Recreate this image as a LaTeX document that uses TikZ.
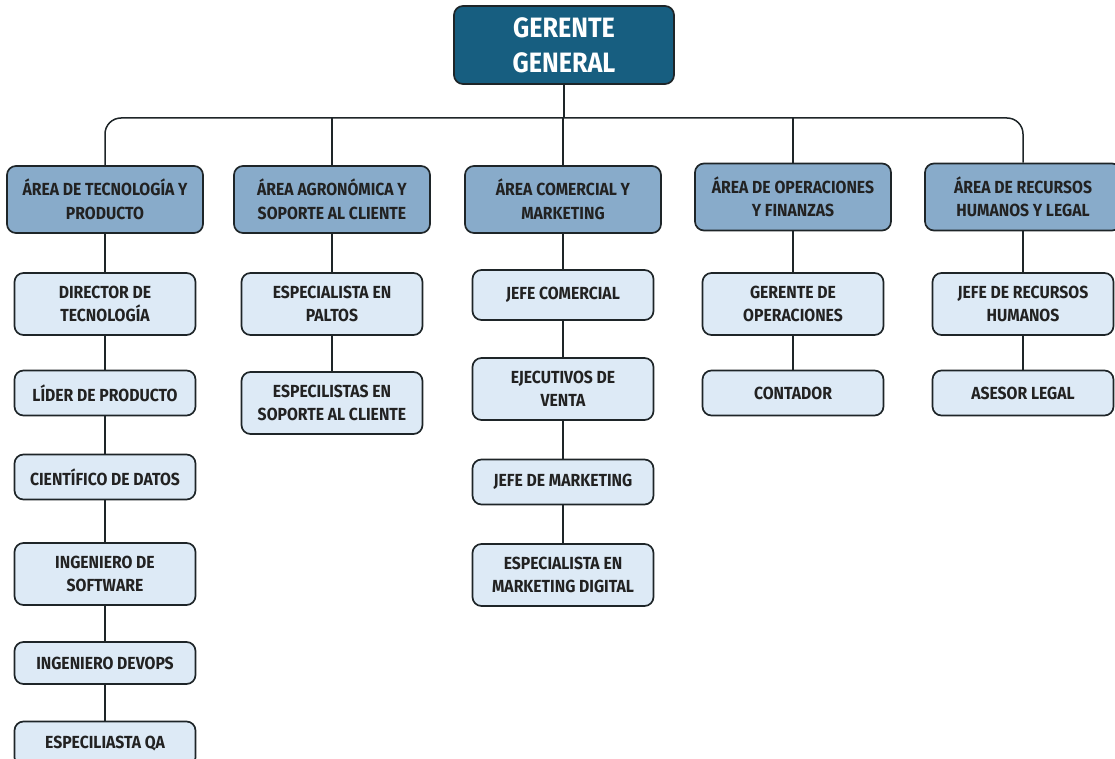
\documentclass[tikz,border=0pt]{standalone}
\usepackage{fontspec}
\setmainfont{Fira Sans}[FakeStretch=0.9]
\usetikzlibrary{positioning}

\definecolor{gerfill}{HTML}{175E80}
\definecolor{areafill}{HTML}{88ABCA}
\definecolor{subfill}{HTML}{DDEAF6}
\definecolor{linecol}{HTML}{1E2528}
\definecolor{textcol}{HTML}{222222}

\begin{document}
\begin{tikzpicture}[x=1pt,y=-1pt,
        box/.style={draw=linecol,line width=1.7pt,rounded corners=9pt,align=center,
            inner sep=0pt,text=textcol,font=\bfseries\fontsize{17.5}{23.5}\selectfont},
        gerbox/.style={box,fill=gerfill,text=white,minimum width=220pt,minimum height=78pt,
            font=\bfseries\fontsize{28}{35}\selectfont},
        areabox/.style={box,fill=areafill,minimum width=196pt,minimum height=67pt},
        subbox/.style={box,fill=subfill,minimum width=181pt,minimum height=#1},
        subbox/.default=62pt,
        link/.style={draw=linecol,line width=1.5pt}]

                \useasboundingbox (0,0) rectangle (1115,759);
                \clip (0,0) rectangle (1115,759);

                \node[gerbox] (gg) at (564,45) {GERENTE\\GENERAL};

                \node[areabox] (a1) at (105,199.5) {ÁREA DE TECNOLOGÍA Y\\PRODUCTO};
                \node[areabox] (a2) at (332,199.5) {ÁREA AGRONÓMICA Y\\SOPORTE AL CLIENTE};
                \node[areabox] (a3) at (563,199.5) {ÁREA COMERCIAL Y\\MARKETING};
                \node[areabox] (a4) at (793,197) {ÁREA DE OPERACIONES\\Y FINANZAS};
                \node[areabox] (a5) at (1023,197) {ÁREA DE RECURSOS\\HUMANOS Y LEGAL};

                \coordinate (bus) at (564,118);

                \node[subbox] (t1) at (105,304) {DIRECTOR DE\\TECNOLOGÍA};
                \node[subbox=45pt] (t2) at (105,393) {LÍDER DE PRODUCTO};
                \node[subbox=45pt] (t3) at (105,477) {CIENTÍFICO DE DATOS};
                \node[subbox] (t4) at (105,574) {INGENIERO DE\\SOFTWARE};
                \node[subbox=42pt] (t5) at (105,663) {INGENIERO DEVOPS};
                \node[subbox=45pt] (t6) at (105,744) {ESPECILIASTA QA};

                \node[subbox] (p1) at (332,304) {ESPECIALISTA EN\\PALTOS};
                \node[subbox] (p2) at (332,403) {ESPECILISTAS EN\\SOPORTE AL CLIENTE};

                \node[subbox=50pt] (c1) at (563,295) {JEFE COMERCIAL};
                \node[subbox] (c2) at (563,389) {EJECUTIVOS DE\\VENTA};
                \node[subbox=45pt] (c3) at (563,482) {JEFE DE MARKETING};
                \node[subbox] (c4) at (563,575) {ESPECIALISTA EN\\MARKETING DIGITAL};

                \node[subbox] (o1) at (793,304) {GERENTE DE\\OPERACIONES};
                \node[subbox=45pt] (o2) at (793,393) {CONTADOR};

                \node[subbox] (r1) at (1023,304) {JEFE DE RECURSOS\\HUMANOS};
                \node[subbox=45pt] (r2) at (1023,393) {ASESOR LEGAL};

                \draw[link] (gg) -- (gg |- bus);
                \draw[link,rounded corners=16pt] (a1) |- (bus) -| (a5);
                \draw[link] (a2) -- (a2 |- bus);
                \draw[link] (a3) -- (a3 |- bus);
                \draw[link] (a4) -- (a4 |- bus);

                \draw[link] (a1) -- (t1) -- (t2) -- (t3) -- (t4) -- (t5) -- (t6);
                \draw[link] (a2) -- (p1) -- (p2);
                \draw[link] (a3) -- (c1) -- (c2) -- (c3) -- (c4);
                \draw[link] (a4) -- (o1) -- (o2);
                \draw[link] (a5) -- (r1) -- (r2);
            \end{tikzpicture}
\end{document}
